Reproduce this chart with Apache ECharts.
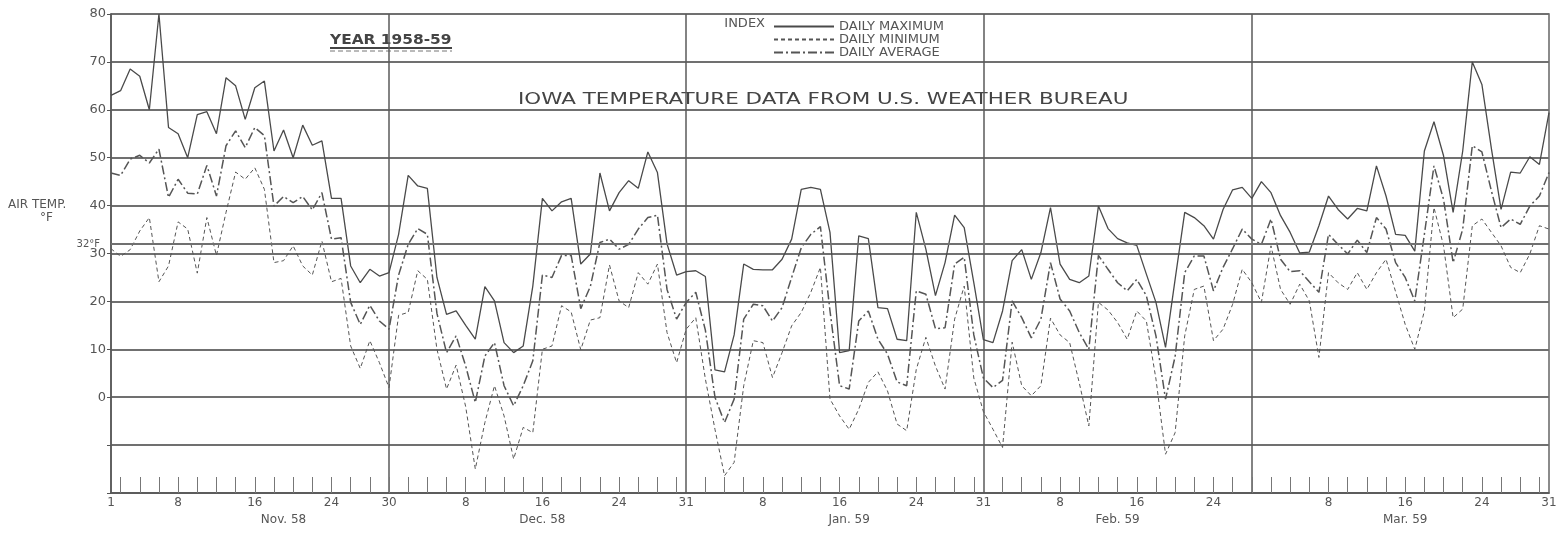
<!DOCTYPE html>
<html><head><meta charset="utf-8">
<script src="https://cdn.jsdelivr.net/npm/echarts@6/dist/echarts.min.js"></script>
<style>html,body{margin:0;padding:0;background:#fff}#c{width:1560px;height:538px}</style>
</head><body><div id="c"></div>
<script>
const monthNames = ['Nov', 'Dec', 'Jan', 'Feb', 'Mar'];
const monthLengths = [30, 31, 31, 28, 31];
const monthTitles = ['Nov. 58', 'Dec. 58', 'Jan. 59', 'Feb. 59', 'Mar. 59'];
const monthTitleDays = [19, 16, 17, 14, 16];
const tickLabelDays = [[1, 8, 16, 24, 30], [8, 16, 24, 31], [8, 16, 24, 31], [8, 16, 24], [8, 16, 24, 31]];

const dailyMax = [
  63, 64, 68.5, 67, 60, 80, 56.3, 55, 50, 59, 59.6, 55, 66.7, 65, 58, 64.6, 66, 51.4, 55.8, 50,
  56.8, 52.6, 53.5, 41.5, 41.5, 27.4, 23.9, 26.7, 25.3, 26, 34, 46.3, 44.1, 43.6, 25, 17.3, 18, 15,
  12.1, 23.1, 20.1, 11.4, 9.3, 10.7, 23.2, 41.5, 38.9, 40.8, 41.5, 27.8, 29.9, 46.8, 38.9, 42.7, 45.2, 43.6, 51.2,
  46.9, 32, 25.5, 26.2, 26.4, 25.2, 5.7, 5.3, 13, 27.8, 26.7, 26.6, 26.6, 28.8, 33, 43.4, 43.8, 43.4, 34.4,
  9.3, 9.7, 33.7, 33.1, 18.7, 18.5, 12.1, 11.8, 38.6, 30.9, 21.2, 28.1, 38, 35.4, 23.9, 12, 11.4, 18, 28.5,
  30.8, 24.6, 30.2, 39.6, 27.8, 24.6, 23.9, 25.3, 39.9, 35.2, 33.1, 32.2, 31.7, 25.7, 19.8, 10.4, 24.6, 38.6, 37.5,
  35.8, 33, 39.2, 43.3, 43.8, 41.5, 45, 42.7, 37.9, 34.4, 30.1, 30.3, 35.8, 42, 39.2, 37.2, 39.4, 38.9,
  48.3, 42, 34, 33.8, 30.5, 51.4, 57.5, 50.4, 38.6, 51.4, 70, 65.3, 51.8, 39.2, 47, 46.8, 50.2, 48.6, 59.4
];
const dailyAvg = [
  46.8, 46.3, 49.7, 50.5, 48.9, 51.8, 41.7, 45.5, 42.6, 42.4, 48.4, 42, 52.5, 55.6, 52.1, 56.3, 54.6, 39.9, 41.9, 40.6,
  41.9, 39.1, 42.7, 33, 33.3, 19.8, 15.2, 19.2, 15.9, 14.2, 25.5, 31.9, 35.2, 34, 17.5, 9.3, 12.8, 6.5,
  -1.1, 8.6, 11.4, 2.4, -1.8, 2.4, 7.6, 25.5, 25, 29.6, 29.6, 18.5, 23.1, 32.3, 33, 30.9, 31.9, 35.1, 37.5,
  38, 22.5, 16.3, 19.8, 21.9, 14, 0, -5.3, -0.4, 16.3, 19.4, 19.1, 15.9, 18.7, 25, 31.2, 34, 35.6, 18,
  2.4, 1.7, 15.9, 18, 12.1, 9, 3.2, 2.4, 22.2, 21.5, 14.3, 14.5, 27.8, 29.2, 13, 4, 2, 3.5, 20.1,
  16.6, 12.4, 16.3, 28.1, 20.5, 18, 13.5, 10, 29.6, 26.7, 23.9, 22.2, 24.6, 21.2, 12.8, -0.4, 8.5, 26, 29.5,
  29.5, 22.2, 27.1, 31, 35.1, 33, 31.9, 37.2, 28.8, 26.2, 26.4, 24.1, 21.9, 34, 31.9, 29.9, 32.8, 30.2,
  37.5, 35.1, 28.1, 25, 20.1, 34, 48.3, 41.3, 28.1, 35.1, 52.5, 51.2, 43, 35.4, 37.2, 36.1, 39.9, 42, 46.9
];
const dailyMin = [
  31, 29.4, 30.8, 34.7, 37.5, 24.1, 27.4, 36.6, 35.1, 25.9, 37.5, 29.6, 38.6, 47, 45.5, 47.9, 43.4, 28.1, 28.5, 31.6,
  27.4, 25.5, 32.6, 24.1, 24.8, 10.7, 6, 11.8, 7.2, 2, 17.1, 17.7, 26.4, 24.6, 10, 1.7, 6.7, -2,
  -15, -5.3, 2.4, -3.9, -12.9, -6.3, -7.4, 10, 10.7, 19.1, 17.8, 9.9, 16.1, 16.6, 27.6, 20.1, 18.7, 26, 23.6,
  27.8, 13.5, 7.2, 14.2, 16.6, 3.8, -6.7, -16.4, -13.6, 2.4, 11.8, 11.4, 4.1, 9.3, 14.9, 17.7, 21.9, 27.1, -0.4,
  -3.9, -6.7, -2.5, 3.1, 5.3, 1.3, -5.6, -7, 5.8, 12.5, 6.5, 1.7, 16.3, 23.2, 4, -3, -6.7, -10.5, 11.5,
  2.4, 0.3, 2.4, 16.5, 13, 11.4, 3, -6, 19.8, 18.2, 15.6, 12.1, 18, 15.9, 3.8, -11.9, -7.4, 12.8, 22.5,
  23.2, 11.8, 14.2, 19.4, 26.7, 23.9, 19.8, 31.6, 22.5, 19.4, 23.6, 20.1, 8.3, 26, 23.9, 22.5, 26, 22.5,
  26, 28.8, 22, 15.2, 10, 18, 39.6, 31.6, 16.6, 18.4, 35.8, 37.2, 34.4, 31.6, 27.1, 26, 29.9, 35.8, 35.1
];

const cats = [], dayOfMonth = [], monthIdx = [];
monthNames.forEach((m, mi) => {
  for (let d = 1; d <= monthLengths[mi]; d++) { cats.push(m + ' ' + d); dayOfMonth.push(d); monthIdx.push(mi); }
});
const labelIdx = new Set(), monthEndIdx = new Set(), titleAt = {};
cats.forEach((c, i) => {
  const mi = monthIdx[i], d = dayOfMonth[i];
  if (tickLabelDays[mi].includes(d)) labelIdx.add(i);
  if (d === monthLengths[mi] && mi < monthNames.length - 1) monthEndIdx.add(i);
  if (d === monthTitleDays[mi]) titleAt[i] = monthTitles[mi];
});

const FONT = 'DejaVu Sans';
const INK = '#4a4a4a';
const GRID = '#707070';

const chart = echarts.init(document.getElementById('c'), null, { renderer: 'canvas' });
chart.setOption({
  animation: false,
  backgroundColor: '#ffffff',
  textStyle: { fontFamily: FONT, color: '#555' },
  grid: { left: 111, right: 11, top: 14, bottom: 45, show: true, borderColor: '#666', borderWidth: 1.5, backgroundColor: 'transparent' },
  legend: {
    orient: 'vertical', left: 768, top: 15, itemWidth: 60, itemHeight: 10, itemGap: 0,
    data: ['DAILY MAXIMUM', 'DAILY MINIMUM', 'DAILY AVERAGE'],
    itemStyle: { color: 'transparent', borderColor: 'transparent', borderWidth: 0, opacity: 0 },
    textStyle: { fontFamily: FONT, fontSize: 13, color: '#555', lineHeight: 13 }
  },
  xAxis: [{
    type: 'category', data: cats, boundaryGap: false,
    axisLine: { onZero: false, lineStyle: { color: '#555', width: 1.5 } },
    axisTick: { show: true, inside: true, length: 16, interval: (i) => dayOfMonth[i] % 2 === 0, lineStyle: { color: '#777', width: 1 } },
    axisLabel: { interval: (i) => labelIdx.has(i), formatter: (v) => v.split(' ')[1], color: '#555', fontSize: 12, margin: 4, fontFamily: FONT },
    splitLine: { show: true, interval: (i) => monthEndIdx.has(i), lineStyle: { color: '#5a5a5a', width: 1.5 } }
  }, {
    type: 'category', data: cats, boundaryGap: false, position: 'bottom', offset: 17,
    axisLine: { show: false, onZero: false }, axisTick: { show: false }, splitLine: { show: false },
    axisLabel: { interval: (i) => titleAt[i] !== undefined, formatter: (v, i) => titleAt[i] || '', color: '#555', fontSize: 12, margin: 4, fontFamily: FONT }
  }],
  yAxis: {
    type: 'value', min: -20, max: 80, interval: 10,
    axisLine: { show: true, lineStyle: { color: '#555', width: 1.5 } },
    axisTick: { show: true, length: 4, lineStyle: { color: '#555' } },
    axisLabel: { formatter: (v) => (v < 0 ? '' : String(v)), color: '#555', fontSize: 13, margin: 5, fontFamily: FONT },
    splitLine: { show: true, lineStyle: { color: GRID, width: 1.8 } }
  },
  series: [{
    name: 'DAILY MAXIMUM', type: 'line', data: dailyMax, symbol: 'none', xAxisIndex: 0,
    lineStyle: { color: INK, width: 1.3 }, itemStyle: { color: INK },
    markLine: {
      silent: true, symbol: 'none', data: [{ yAxis: 32 }],
      lineStyle: { type: 'solid', color: GRID, width: 1.8 },
      label: { position: 'start', formatter: '32°F', fontSize: 10, color: '#555', distance: 11, fontFamily: FONT }
    }
  }, {
    name: 'DAILY MINIMUM', type: 'line', data: dailyMin, symbol: 'none', xAxisIndex: 0,
    lineStyle: { color: '#555', width: 1, type: [4, 3] }, itemStyle: { color: '#555' }
  }, {
    name: 'DAILY AVERAGE', type: 'line', data: dailyAvg, symbol: 'none', xAxisIndex: 0,
    lineStyle: { color: '#555', width: 1.5, type: [9, 3, 2, 3] }, itemStyle: { color: '#555' }
  }],
  graphic: [
    { type: 'text', x: 765, y: 24, style: { text: 'INDEX', textAlign: 'right', textVerticalAlign: 'middle', font: '13px "DejaVu Sans"', fill: '#555' } },
    { type: 'text', x: 330, y: 40, scaleX: 1.1, style: { text: 'YEAR 1958-59', textAlign: 'left', textVerticalAlign: 'middle', font: '600 14px "DejaVu Sans"', fill: '#444' } },
    { type: 'line', shape: { x1: 330, y1: 48, x2: 452, y2: 48 }, style: { stroke: '#444', lineWidth: 2.2 } },
    { type: 'line', shape: { x1: 330, y1: 51, x2: 452, y2: 51 }, style: { stroke: '#777', lineWidth: 1, lineDash: [5, 3] } },
    { type: 'text', x: 518, y: 100, scaleX: 1.43, style: { text: 'IOWA TEMPERATURE DATA FROM U.S. WEATHER BUREAU', textAlign: 'left', textVerticalAlign: 'middle', font: '15px "DejaVu Sans"', fill: '#444' } },
    { type: 'text', x: 8, y: 205, style: { text: 'AIR TEMP.', textAlign: 'left', textVerticalAlign: 'middle', font: '12px "DejaVu Sans"', fill: '#555' } },
    { type: 'text', x: 40, y: 218, style: { text: '°F', textAlign: 'left', textVerticalAlign: 'middle', font: '12px "DejaVu Sans"', fill: '#555' } }
  ]
});
</script></body></html>
